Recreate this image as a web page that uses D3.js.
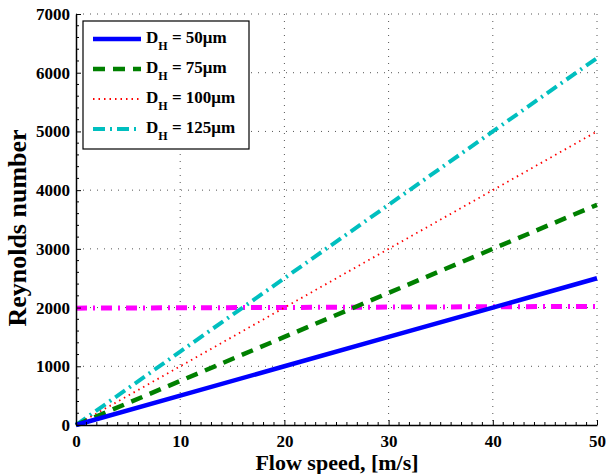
<!DOCTYPE html>
<html>
<head>
<meta charset="utf-8">
<script src="https://cdn.jsdelivr.net/npm/d3@7"></script>
<style>
  body { margin: 0; background: #fff; }
  text { font-family: "Liberation Serif", "Times New Roman", serif; font-weight: bold; }
</style>
</head>
<body>
<svg id="chart" width="607" height="474"></svg>
<script>
// data
const speed = [0, 10, 20, 30, 40, 50];
const re50 = [0, 500, 1000, 1500, 2000, 2500];
const re75 = [0, 750, 1500, 2250, 3000, 3750];
const re100 = [0, 1000, 2000, 3000, 4000, 5000];
const re125 = [0, 1250, 2500, 3750, 5000, 6250];
const critSpeed = [0, 50];
const critRe = [1990, 2020];
const xTicks = [0, 10, 20, 30, 40, 50];
const yTicks = [0, 1000, 2000, 3000, 4000, 5000, 6000, 7000];
const legendNames = ['50\u03bcm', '75\u03bcm', '100\u03bcm', '125\u03bcm'];

const svg = d3.select('#chart');
const m = {left: 76, right: 597, top: 14, bottom: 425};

const x = d3.scaleLinear().domain([0, 50]).range([m.left, m.right]);
const y = d3.scaleLinear().domain([0, 7000]).range([m.bottom, m.top]);

// grid
const grid = svg.append('g');
xTicks.slice(1).forEach(t => {
    grid.append('line')
        .attr('x1', x(t)).attr('x2', x(t))
        .attr('y1', m.top).attr('y2', m.bottom)
        .style('stroke', '#555').style('stroke-width', 1)
        .style('stroke-dasharray', '1,6');
});
yTicks.slice(1).forEach(t => {
    grid.append('line')
        .attr('x1', m.left).attr('x2', m.right)
        .attr('y1', y(t)).attr('y2', y(t))
        .style('stroke', '#555').style('stroke-width', 1)
        .style('stroke-dasharray', '1,6');
});

// series
const series = [
    {v: re50, color: '#0000ff', width: 4.5, dash: null},
    {v: re75, color: '#008000', width: 4.5, dash: '12,8'},
    {v: re100, color: '#ff0000', width: 1.8, dash: '1.5,4'},
    {v: re125, color: '#00bfbf', width: 4, dash: '12,5,2,5'}
];

const line = d3.line().x(d => x(d[0])).y(d => y(d[1]));

const plot = svg.append('g');
plot.append('path')
    .attr('d', line(critSpeed.map((s, i) => [s, critRe[i]])))
    .style('fill', 'none').style('stroke', '#ff00ff')
    .style('stroke-width', 5).style('stroke-dasharray', '11,6,2,6');

series.slice().reverse().forEach(s => {
    plot.append('path')
        .attr('d', line(speed.map((v, i) => [v, s.v[i]])))
        .style('fill', 'none').style('stroke', s.color)
        .style('stroke-width', s.width)
        .style('stroke-dasharray', s.dash);
});

// axes
const xAxis = d3.axisBottom(x).tickValues(xTicks).tickFormat(d3.format('d'))
    .tickSizeInner(-5).tickSizeOuter(0).tickPadding(10);
const yAxis = d3.axisLeft(y).tickValues(yTicks).tickFormat(d3.format('d'))
    .tickSizeInner(-5).tickSizeOuter(0).tickPadding(6);

const gx = svg.append('g').attr('transform', `translate(0,${m.bottom})`).call(xAxis);
const gy = svg.append('g').attr('transform', `translate(${m.left},0)`).call(yAxis);
[gx, gy].forEach(g => {
    g.select('.domain').style('stroke', '#000').style('stroke-width', 1.5);
    g.selectAll('.tick line').style('stroke', '#000');
    g.selectAll('.tick text').style('font-size', '17px').style('fill', '#000')
        .style('font-family', '"Liberation Serif", serif');
});

// minor ticks
const xMinor = d3.range(0, 51, 1).filter(v => v % 10 !== 0);
xMinor.forEach(t => {
    svg.append('line').attr('x1', x(t)).attr('x2', x(t))
        .attr('y1', m.bottom).attr('y2', m.bottom - 3).style('stroke', '#000');
});
const yMinor = d3.range(0, 7001, 200).filter(v => v % 1000 !== 0);
yMinor.forEach(t => {
    svg.append('line').attr('x1', m.left).attr('x2', m.left + 3)
        .attr('y1', y(t)).attr('y2', y(t)).style('stroke', '#000');
});

// axis labels
svg.append('text')
    .attr('x', 337).attr('y', 470)
    .attr('text-anchor', 'middle').style('font-size', '22px')
    .text('Flow speed, [m/s]');
svg.append('text')
    .attr('transform', 'translate(26,228) rotate(-90)')
    .attr('text-anchor', 'middle').style('font-size', '26px')
    .text('Reynolds number');

// legend
const lg = svg.append('g');
lg.append('rect')
    .attr('x', 83).attr('y', 21).attr('width', 166).attr('height', 128)
    .style('fill', '#fff').style('stroke', '#000').style('stroke-width', 1.2);

series.forEach((s, i) => {
    const ly = 39 + i * 30;
    lg.append('line')
        .attr('x1', 93).attr('x2', 141).attr('y1', ly).attr('y2', ly)
        .style('stroke', s.color).style('stroke-width', s.width)
        .style('stroke-dasharray', s.dash);
    const t = lg.append('text').attr('x', 146).attr('y', ly + 4).style('font-size', '17px');
    t.append('tspan').text('D');
    t.append('tspan').attr('dy', 7).style('font-size', '12px').text('H');
    t.append('tspan').attr('dy', -7).text(' = ' + legendNames[i]);
});
</script>
</body>
</html>
